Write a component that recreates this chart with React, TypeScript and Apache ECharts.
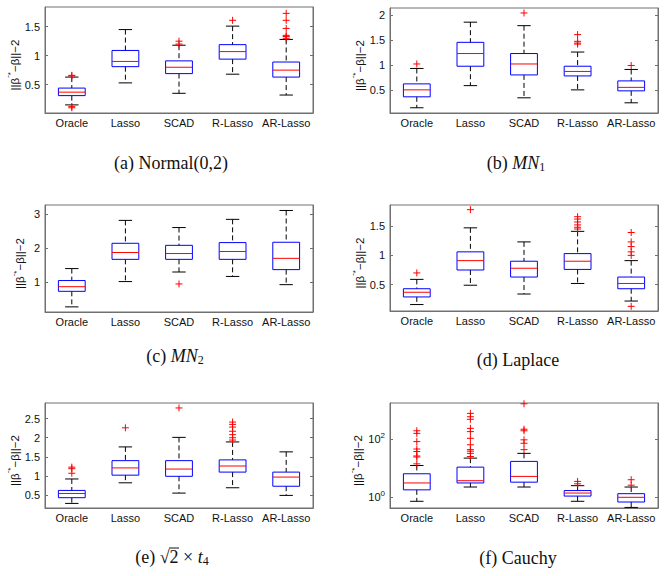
import React, { useEffect, useRef } from 'react';
import * as echarts from 'echarts';

const categories = ['Oracle', 'Lasso', 'SCAD', 'R-Lasso', 'AR-Lasso'];

// each box: [lower whisker, Q1, median, Q3, upper whisker]
const boxesA = [
  [0.15, 0.31, 0.37, 0.44, 0.63],
  [0.53, 0.81, 0.9, 1.09, 1.45],
  [0.35, 0.69, 0.8, 0.91, 1.18],
  [0.68, 0.94, 1.07, 1.19, 1.51],
  [0.32, 0.63, 0.75, 0.89, 1.28],
];
const outliersA = [
  [0, 0.65], [0, 0.66], [0, 0.12], [0, 0.1],
  [2, 1.25], [2, 1.2],
  [3, 1.61],
  [4, 1.73], [4, 1.61], [4, 1.47], [4, 1.35], [4, 1.33], [4, 1.3],
];
const ticksA = [0.5, 1, 1.5];

const boxesB = [
  [0.14, 0.36, 0.5, 0.62, 0.93],
  [0.585, 0.975, 1.23, 1.455, 1.86],
  [0.34, 0.8, 1.02, 1.23, 1.79],
  [0.5, 0.78, 0.87, 0.975, 1.26],
  [0.24, 0.48, 0.55, 0.68, 0.91],
];
const outliersB = [
  [0, 1.02],
  [2, 2.045],
  [3, 1.61], [3, 1.475], [3, 1.44], [3, 1.42],
  [4, 0.99],
];
const ticksB = [0.5, 1, 1.5, 2];

const boxesC = [
  [0.28, 0.735, 0.87, 1.05, 1.4],
  [1.02, 1.67, 1.87, 2.14, 2.81],
  [1.3, 1.67, 1.84, 2.08, 2.6],
  [1.17, 1.67, 1.9, 2.16, 2.84],
  [0.93, 1.37, 1.7, 2.17, 3.1],
];
const outliersC = [[2, 0.95]];
const ticksC = [1, 2, 3];

const boxesD = [
  [0.16, 0.29, 0.37, 0.43, 0.59],
  [0.49, 0.75, 0.91, 1.06, 1.47],
  [0.34, 0.63, 0.78, 0.9, 1.23],
  [0.52, 0.76, 0.9, 1.03, 1.41],
  [0.22, 0.43, 0.52, 0.63, 0.91],
];
const outliersD = [
  [0, 0.7],
  [1, 1.78],
  [3, 1.66], [3, 1.62], [3, 1.57], [3, 1.52], [3, 1.48], [3, 1.45],
  [4, 1.39], [4, 1.23], [4, 1.15], [4, 1.06], [4, 1.0], [4, 0.13],
];
const ticksD = [0.5, 1, 1.5];

const boxesE = [
  [0.28, 0.43, 0.54, 0.62, 0.92],
  [0.82, 1.02, 1.21, 1.4, 1.76],
  [0.55, 0.99, 1.18, 1.4, 2.01],
  [0.69, 1.1, 1.26, 1.42, 1.89],
  [0.49, 0.73, 0.97, 1.1, 1.63],
];
const outliersE = [
  [0, 1.23], [0, 1.19], [0, 1.07],
  [1, 2.26],
  [2, 2.78],
  [3, 2.41], [3, 2.35], [3, 2.28], [3, 2.17], [3, 2.08], [3, 2.0], [3, 1.94],
];
const ticksE = [0.5, 1, 1.5, 2, 2.5];

const boxesF = [
  [0.73, 1.8, 3.1, 6.4, 12.3],
  [2.25, 3.1, 3.7, 10.8, 22],
  [2.25, 3.3, 5.2, 17, 32],
  [0.73, 1.1, 1.4, 1.7, 2.5],
  [0.45, 0.69, 1.0, 1.33, 2.25],
];
const outliersF = [
  [0, 190], [0, 155], [0, 81], [0, 45], [0, 37], [0, 26], [0, 24], [0, 14],
  [1, 750], [1, 575], [1, 470], [1, 230], [1, 178], [1, 105], [1, 63], [1, 43], [1, 38], [1, 32], [1, 25],
  [2, 1600], [2, 215], [2, 190], [2, 93], [2, 71], [2, 43],
  [3, 3.5], [3, 2.9],
  [4, 4.0], [4, 2.6],
];
const ticksF = [1, 100];

const yRangeA = [0.01, 1.84];
const yRangeB = [0.035, 2.145];
const yRangeC = [0.13, 3.26];
const yRangeD = [0.05, 1.86];
const yRangeE = [0.16, 2.91];
const yRangeF = [0.43, 1700];

const SANS = 'Liberation Sans, Arial, sans-serif';
const SERIF = 'Liberation Serif, Times New Roman, serif';
const AXIS_GRAY = '#707070';

function renderBox(params: any, api: any) {
  const x = api.value(0);
  const lo = api.coord([x, api.value(1)]);
  const q1 = api.coord([x, api.value(2)]);
  const med = api.coord([x, api.value(3)]);
  const q3 = api.coord([x, api.value(4)]);
  const hi = api.coord([x, api.value(5)]);
  const band = api.size([1, 0])[0];
  const half = band * 0.25;
  const cap = band * 0.125;
  const cx = lo[0];
  const dash = { stroke: '#000', lineWidth: 1, lineDash: [5, 3], fill: 'none' };
  const solid = { stroke: '#000', lineWidth: 1, fill: 'none' };
  return {
    type: 'group',
    children: [
      { type: 'line', shape: { x1: cx, y1: hi[1], x2: cx, y2: q3[1] }, style: dash },
      { type: 'line', shape: { x1: cx, y1: q1[1], x2: cx, y2: lo[1] }, style: dash },
      { type: 'line', shape: { x1: cx - cap, y1: hi[1], x2: cx + cap, y2: hi[1] }, style: solid },
      { type: 'line', shape: { x1: cx - cap, y1: lo[1], x2: cx + cap, y2: lo[1] }, style: solid },
      {
        type: 'rect',
        shape: { x: cx - half, y: q3[1], width: 2 * half, height: q1[1] - q3[1] },
        style: { stroke: '#0000ff', lineWidth: 1, fill: 'none' },
      },
      { type: 'line', shape: { x1: cx - half, y1: med[1], x2: cx + half, y2: med[1] }, style: { stroke: '#ff0000', lineWidth: 1 } },
    ],
  };
}

function renderOutlier(params: any, api: any) {
  const p = api.coord([api.value(0), api.value(1)]);
  const s = 3.5;
  const st = { stroke: '#ff0000', lineWidth: 1 };
  return {
    type: 'group',
    children: [
      { type: 'line', shape: { x1: p[0] - s, y1: p[1], x2: p[0] + s, y2: p[1] }, style: st },
      { type: 'line', shape: { x1: p[0], y1: p[1] - s, x2: p[0], y2: p[1] + s }, style: st },
    ],
  };
}

const panels = [
  { boxes: boxesA, outliers: outliersA, ticks: ticksA, range: yRangeA, log: false, grid: { left: 45, top: 7, width: 268, height: 106 } },
  { boxes: boxesB, outliers: outliersB, ticks: ticksB, range: yRangeB, log: false, grid: { left: 390, top: 8, width: 268, height: 105 } },
  { boxes: boxesC, outliers: outliersC, ticks: ticksC, range: yRangeC, log: false, grid: { left: 45, top: 205, width: 268, height: 107 } },
  { boxes: boxesD, outliers: outliersD, ticks: ticksD, range: yRangeD, log: false, grid: { left: 390, top: 205, width: 268, height: 106 } },
  { boxes: boxesE, outliers: outliersE, ticks: ticksE, range: yRangeE, log: false, grid: { left: 45, top: 403, width: 268, height: 105 } },
  { boxes: boxesF, outliers: outliersF, ticks: ticksF, range: yRangeF, log: true, grid: { left: 390, top: 403, width: 268, height: 105 } },
];

const captions = [
  { text: '(a) Normal(0,2)', x: 171, y: 163 },
  { text: '(b) {i|MN}{s|1}', x: 516, y: 163 },
  { text: '(c) {i|MN}{s|2}', x: 175, y: 356 },
  { text: '(d) Laplace', x: 518, y: 360 },
  { text: '(e) √2 × {i|t}{s|4}', x: 172, y: 557 },
  { text: '(f) Cauchy', x: 518, y: 558 },
];

export default function App() {
  const ref = useRef<HTMLDivElement>(null);
  useEffect(() => {
    if (!ref.current) return;
    const chart = echarts.init(ref.current, undefined, { renderer: 'svg' });
    const grids: any[] = [];
    const xAxes: any[] = [];
    const yAxes: any[] = [];
    const series: any[] = [];
    panels.forEach((p, i) => {
      grids.push({
        ...p.grid,
        show: true,
        borderColor: AXIS_GRAY,
        borderWidth: 1,
        backgroundColor: 'transparent',
        containLabel: false,
      });
      xAxes.push({
        type: 'category',
        gridIndex: i,
        data: categories,
        boundaryGap: true,
        axisLine: { lineStyle: { color: AXIS_GRAY } },
        axisTick: { show: false },
        axisLabel: { color: '#111', fontFamily: SANS, fontSize: 11, margin: 4, interval: 0 },
        splitLine: { show: false },
      });
      const common = {
        gridIndex: i,
        type: p.log ? 'log' : 'value',
        logBase: 10,
        min: p.range[0],
        max: p.range[1],
        splitLine: { show: false },
        axisLine: { show: true, lineStyle: { color: AXIS_GRAY } },
      };
      yAxes.push({
        ...common,
        position: 'left',
        name: '{n|||β}{s|ˆ*}{n|−β||−2}',
        nameLocation: 'middle',
        nameGap: 17,
        nameRotate: 90,
        nameTextStyle: {
          color: '#111',
          padding: [0, 10, 0, 0],
          rich: {
            n: { fontFamily: SANS, fontSize: 11.5, color: '#111' },
            s: { fontFamily: SANS, fontSize: 8, color: '#111', padding: [0, 0, 8, 0] },
          },
        },
        axisTick: { show: true, inside: true, length: 3, customValues: p.ticks, lineStyle: { color: AXIS_GRAY } },
        axisLabel: {
          show: true,
          customValues: p.ticks,
          margin: 5,
          color: '#111',
          fontFamily: SANS,
          fontSize: 11,
          formatter: p.log
            ? (v: number) => '{b|10}{e|' + Math.round(Math.log10(v)) + '}'
            : undefined,
          rich: {
            b: { fontFamily: SANS, fontSize: 11, color: '#111' },
            e: { fontFamily: SANS, fontSize: 8, color: '#111', padding: [0, 0, 7, 0] },
          },
        },
      });
      yAxes.push({
        ...common,
        position: 'right',
        axisTick: { show: true, inside: true, length: 3, customValues: p.ticks, lineStyle: { color: AXIS_GRAY } },
        axisLabel: { show: false },
      });
      const yIdx = i * 2;
      series.push({
        type: 'custom',
        xAxisIndex: i,
        yAxisIndex: yIdx,
        renderItem: renderBox,
        encode: { x: 0, y: [1, 2, 3, 4, 5] },
        data: p.boxes.map((b, k) => [k, ...b]),
        clip: false,
      });
      series.push({
        type: 'custom',
        xAxisIndex: i,
        yAxisIndex: yIdx,
        renderItem: renderOutlier,
        encode: { x: 0, y: 1 },
        data: p.outliers,
        clip: false,
      });
    });

    const graphic: any[] = captions.map((c) => ({
      type: 'text',
      x: c.x,
      y: c.y,
      style: {
        text: c.text,
        align: 'center',
        verticalAlign: 'middle',
        fontFamily: SERIF,
        fontSize: 18,
        fill: '#111',
        rich: {
          i: { fontFamily: SERIF, fontStyle: 'italic', fontSize: 18, fill: '#111' },
          s: { fontFamily: SERIF, fontSize: 12, fill: '#111', padding: [8, 0, 0, 0] },
        },
      },
    }));
    // radical overline above the "2" in caption (e)
    graphic.push({
      type: 'line',
      shape: { x1: 169, y1: 548, x2: 179, y2: 548 },
      style: { stroke: '#111', lineWidth: 1 },
    });

    chart.setOption({
      animation: false,
      backgroundColor: '#ffffff',
      grid: grids,
      xAxis: xAxes,
      yAxis: yAxes,
      series,
      graphic,
    });
    return () => chart.dispose();
  }, []);
  return <div ref={ref} style={{ position: 'absolute', left: 0, top: 0, width: 667, height: 576 }} />;
}
